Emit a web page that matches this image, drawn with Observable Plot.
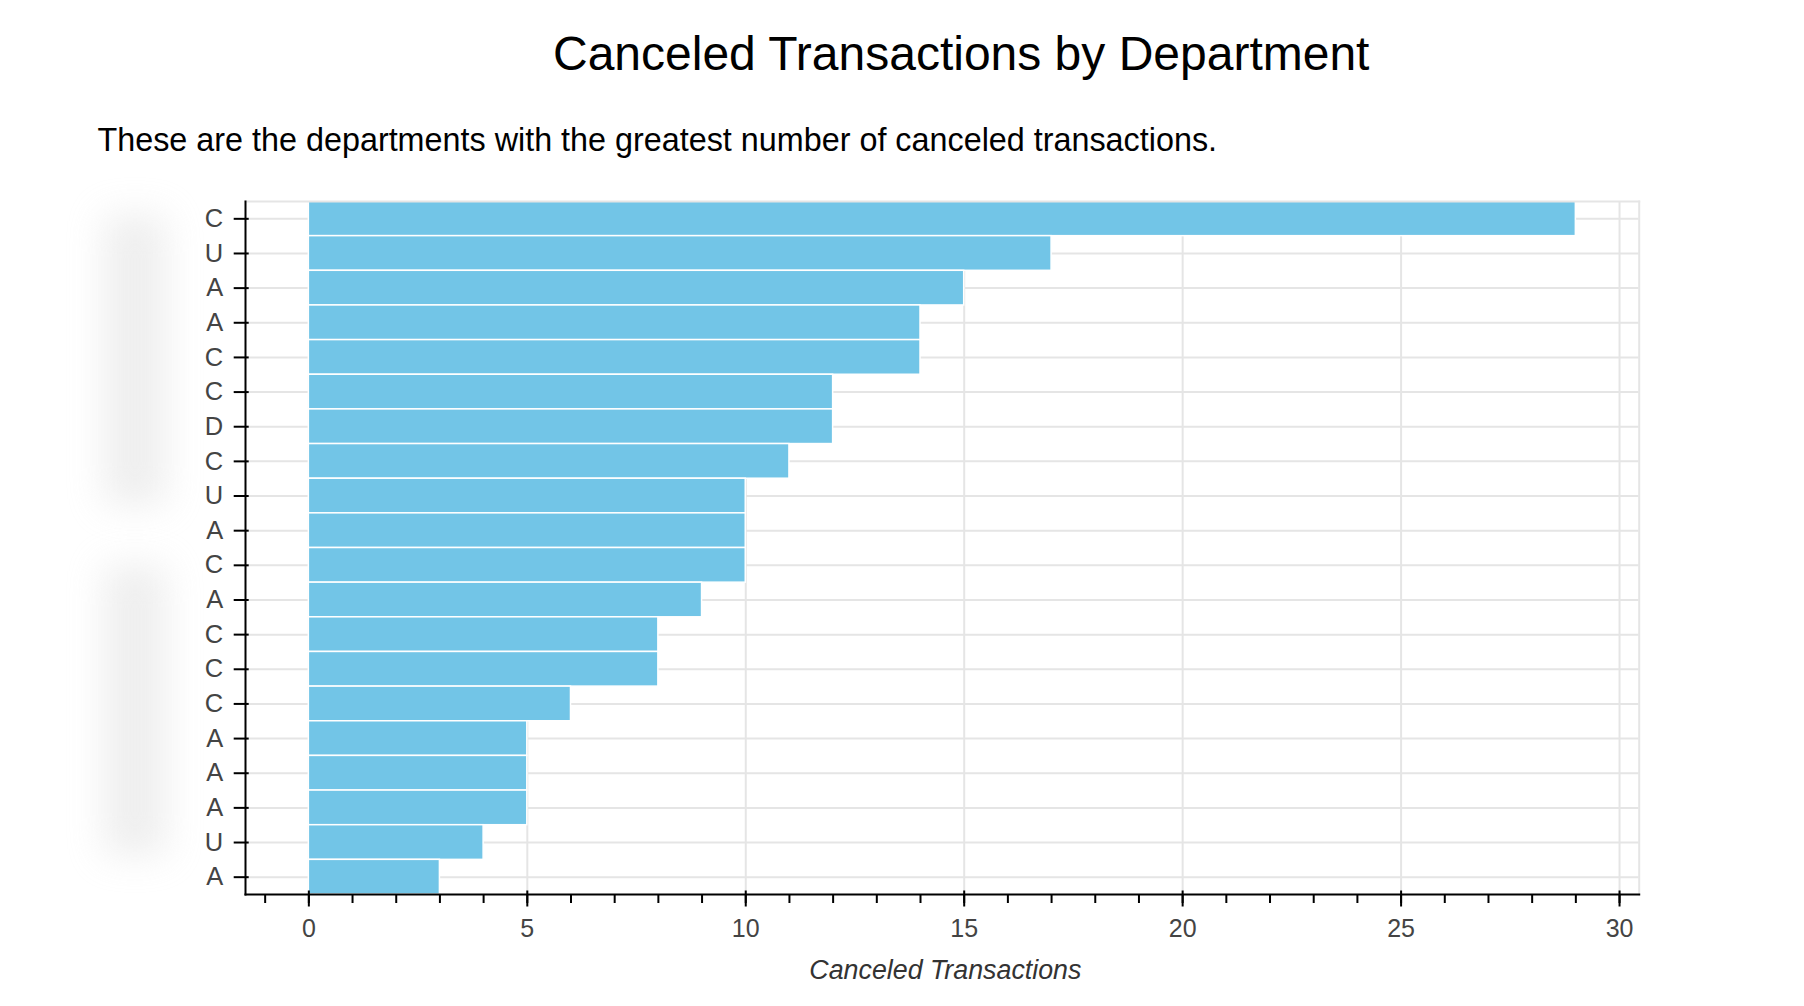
<!DOCTYPE html>
<html>
<head>
<meta charset="utf-8">
<script src="https://cdn.jsdelivr.net/npm/d3@7"></script>
<script src="https://cdn.jsdelivr.net/npm/@observablehq/plot@0.6"></script>
<style>
  html, body { margin: 0; padding: 0; background: white; overflow: hidden; }
  #wrap { position: relative; width: 1804px; height: 1006px; font-family: "Liberation Sans", Arial, Helvetica, sans-serif; }
  #chart { position: absolute; left: 0; top: 0; }
  .title { position: absolute; left: 553px; top: 30.4px; font-size: 48px; line-height: 48px; color: #000; white-space: nowrap; }
  .subtitle { position: absolute; left: 97.5px; top: 123.8px; font-size: 32.35px; line-height: 32px; color: #000; white-space: nowrap; }
  .blur { position: absolute; background: #d8d8d8; filter: blur(18px); opacity: 0.42; pointer-events: none; }
</style>
</head>
<body>
<div id="wrap">
  <div id="chart"></div>
  <div class="blur" style="left:104px; top:215px; width:62px; height:290px;"></div>
  <div class="blur" style="left:104px; top:565px; width:62px; height:290px;"></div>
  <div class="title">Canceled Transactions by Department</div>
  <div class="subtitle">These are the departments with the greatest number of canceled transactions.</div>
</div>
<script>
const labels = ["C","U","A","A","C","C","D","C","U","A","C","A","C","C","C","A","A","A","U","A"];
const values = [29,17,15,14,14,12,12,11,10,10,10,9,8,8,6,5,5,5,4,3];
const majorTicks = [0, 5, 10, 15, 20, 25, 30];
const minorTicks = d3.range(-1, 31);
const xLabel = "Canceled Transactions";

const rows = labels.map((l, i) => ({i, label: l, value: values[i]}));
const idx = rows.map(d => d.i);

const chart = Plot.plot({
  width: 1804,
  height: 1006,
  marginTop: 201,
  marginBottom: 112,
  marginLeft: 245,
  marginRight: 165.3,
  style: {fontFamily: "'Liberation Sans', Arial, Helvetica, sans-serif", fontSize: "25px", background: "white", overflow: "visible"},
  x: {domain: [-1.45, 30.45], label: null},
  y: {domain: idx, padding: 0, round: false, label: null},
  marks: [
    Plot.gridX(majorTicks, {stroke: "#e5e5e5", strokeOpacity: 1, strokeWidth: 2}),
    Plot.gridY(idx, {stroke: "#e5e5e5", strokeOpacity: 1, strokeWidth: 2}),
    Plot.barX(rows, {y: "i", x1: 0, x2: "value", fill: "#72c5e7", stroke: "white", strokeWidth: 1.5}),
    Plot.frame({anchor: "top", stroke: "#e5e5e5", strokeWidth: 2}),
    Plot.frame({anchor: "right", stroke: "#e5e5e5", strokeWidth: 2}),
    Plot.frame({anchor: "left", stroke: "black", strokeWidth: 2}),
    Plot.frame({anchor: "bottom", stroke: "black", strokeWidth: 2}),
    Plot.axisX(minorTicks, {tickSize: 9, tickFormat: () => "", stroke: "black", strokeWidth: 2, label: null}),
    Plot.axisX(majorTicks, {tickSize: 16, dy: -3.5, tickPadding: 12, tickFormat: d => String(d), stroke: "black", fill: "#444", strokeWidth: 2, fontSize: 25, label: null}),
    Plot.axisY(idx, {tickSize: 15, dx: 3.7, tickPadding: 11, tickFormat: i => labels[i], stroke: "black", fill: "#444", strokeWidth: 2, fontSize: 25.5, label: null}),
    Plot.text([xLabel], {frameAnchor: "bottom", dy: 84, dx: 3, text: d => d, fontStyle: "italic", fontSize: 26.8, fill: "#333"})
  ]
});
document.getElementById("chart").appendChild(chart);
</script>
</body>
</html>
